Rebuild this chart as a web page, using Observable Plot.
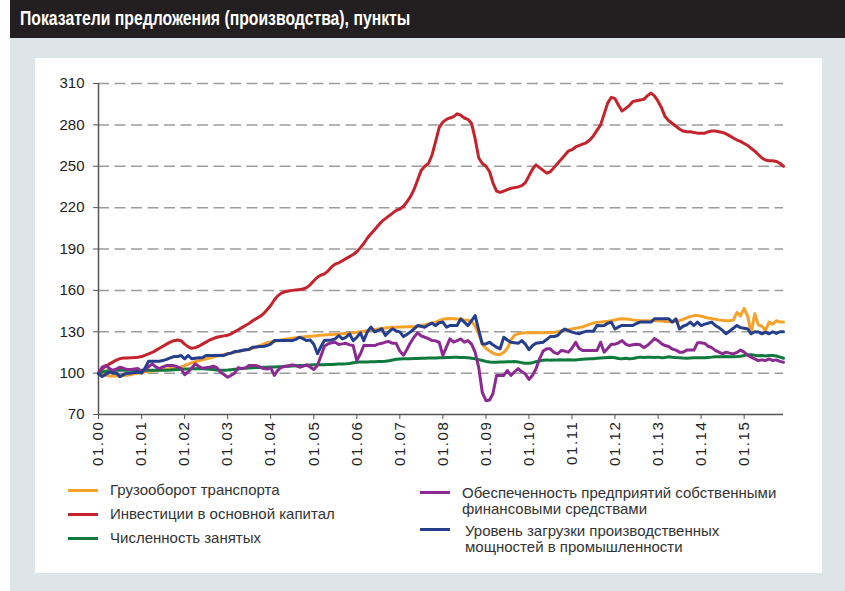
<!DOCTYPE html>
<html>
<head>
<meta charset="utf-8">
<script src="https://cdn.jsdelivr.net/npm/d3@7"></script>
<script src="https://cdn.jsdelivr.net/npm/@observablehq/plot@0.6"></script>
<style>
  html, body { margin: 0; padding: 0; }
  body { width: 845px; height: 591px; position: relative; overflow: hidden; background: #ffffff; font-family: "Liberation Sans", Arial, sans-serif; }
  #bg { position: absolute; left: 10px; top: 0; width: 835px; height: 591px; background: #dde5e9; }
  #title { position: absolute; left: 10px; top: 0; width: 835px; height: 38px; background: #231f20; }
  #title span { position: absolute; left: 10px; top: 7px; color: #fff; font-family: "Liberation Sans", Arial, sans-serif; font-weight: bold; font-size: 20px; white-space: nowrap; transform-origin: 0 50%; }
  #panel { position: absolute; left: 35px; top: 58px; width: 787px; height: 515px; background: #fff; }
  #chart { position: absolute; left: 0; top: 0; }
  .lg { position: absolute; font-size: 15px; color: #333; line-height: 16px; white-space: nowrap; }
  .sw { position: absolute; width: 30px; height: 3px; }
</style>
</head>
<body>
<div id="bg"></div>
<div id="title"><span id="titleText">Показатели предложения (производства), пункты</span></div>
<div id="panel"></div>
<div id="chart"></div>
<div id="legend"></div>
<script>
// ---- Data (monthly, Jan 2000 – Dec 2015) ----
const years = d3.range(2000, 2016);
const seriesNames = [
  "Грузооборот транспорта",
  "Инвестиции в основной капитал",
  "Численность занятых",
  "Обеспеченность предприятий собственными финансовыми средствами",
  "Уровень загрузки производственных мощностей в промышленности"
];
const seriesColors = ["#f6a12a", "#c5232b", "#0e7a3d", "#8b2b91", "#263f8c"];
const yTicks = [70, 100, 130, 160, 190, 220, 250, 280, 310];

const freight = [
  100,99,98.5,98,98,98,98,98.2,98.5,99,99.5,100,
  100.5,101,101.3,101.6,102,102.3,102.6,103,103.3,103.6,104,104.5,
  105.5,106.5,107.5,108.3,109,109.7,110.3,111,111.6,112.3,113,113.5,
  114,114.6,115.2,115.7,116.2,116.7,117.2,118,119,120,121,122,
  122.5,123,123.5,124,124.5,125,125.3,125.6,125.9,126.2,126.5,126.8,
  127,127.2,127.4,127.6,127.8,128,128.2,128.4,128.6,128.8,129,129.3,
  129.6,130,130.4,130.8,131.2,131.6,132,132.4,132.8,133,133.2,133.3,
  133.4,133.5,133.6,133.7,133.8,134,134.5,135,135.7,136.3,137,138,
  139,139.4,139.6,139.5,139.2,139,138.6,138.3,137.5,134,128,121,
  118,116,114.5,113.5,113.5,115,118,124,127.5,128.5,129,129.2,
  129.2,129.2,129.2,129.2,129.2,129.2,129.4,129.6,130,130.5,131,131.5,
  132,132.5,133,133.5,134.5,135.5,136.3,136.8,137,137.3,137.6,138,
  138.5,139.3,139.5,139.3,139,138.6,138.3,138,138,138,138,138,
  138,137.8,137.5,137.3,137.2,137.4,138,139,140,141,141.7,141.8,
  141.3,140.5,140,139.5,139,138.6,138.3,138,138,138.5,144,141.5,
  147,141,129,143,135,134,131,137,135.5,138,137,137
];
const investment = [
  100,103,105,106.5,108,109.5,110.5,111,111,111.2,111.3,111.5,
  112,113,114,115,116.5,118,119.5,121,122.5,123.5,124,123.5,
  121,119,118,118.5,119.5,121,122.5,124,125,126,126.5,127,
  127.5,128.5,130,131.5,133,134.5,136,138,139.5,141,143,146,
  149,153,156,158,159,159.5,160,160.3,160.6,161,162,164,
  167,169.5,171,172,174,177,179,180,181.5,183,184.5,186,
  188,191,194,198,201,204,207,210,212,214,216,218,
  219,221,224,228,233,240,247,250,252,258,268,278,
  282,284,285,286,288,287,285,284,281,270,256,252,
  250,246,238,232,231,232,233,234,234.5,235,236,238,
  243,248,251,249,247,245,246,249,252,255,258,261,
  262,264,265,266,267,269,272,276,280,288,296,300,
  299,294,290,292,294,297,297.5,298,298.5,301,303,301,
  297,292,286,283,281,279,277,275.5,275,275,274.5,274,
  274,274,275,275.5,275.5,275,274.5,273.5,272,270.5,269,268,
  266.5,265,263,261,258.5,256,254.5,254,254,253.5,252,250
];
const employment = [
  100,100.8,101.3,101.7,101.9,102,102,102,102,102,102,102,
  102,102,102,102,102,102,102,102,102.2,102.5,102.7,102.8,
  103,103,103.1,103.2,103.3,103.2,103,102.8,102.6,102.3,102.1,102,
  102.2,102.5,102.8,103,103.3,103.5,103.7,103.9,104,104.1,104.2,104.3,
  104.4,104.5,104.6,104.7,104.9,105,105.2,105.4,105.5,105.6,105.8,105.9,
  106,106,106,106.1,106.2,106.3,106.5,106.6,106.7,106.8,107,107.5,
  107.8,108,108,108.1,108.2,108.3,108.4,108.5,108.6,109,109.5,110,
  110.3,110.4,110.5,110.5,110.6,110.6,110.7,110.8,110.9,111,111,111.1,
  111.2,111.3,111.4,111.5,111.5,111.4,111.3,111.1,110.8,110.4,109.8,109.2,
  108.5,108,107.9,107.9,108,108.1,108.2,108.3,108.4,108.1,107.6,107.2,
  107.2,107.6,108.2,108.8,109.4,109.6,109.3,109.6,109.5,109.7,109.6,109.7,
  109.6,109.6,109.8,110.1,110.3,110.4,110.5,110.7,110.9,111.1,111.3,111.5,
  111.2,110.6,110.4,110.8,110.4,110.6,111.2,111.6,111.4,111.6,111.6,111.4,
  111.6,111.2,111.4,111.8,111.5,111.3,111.2,110.9,110.8,111,111.2,111.1,
  111.2,111.1,111.4,111.6,111.9,111.8,111.9,112,111.8,111.9,112,112.3,
  112.8,113.4,113.3,112.9,112.6,112.8,112.5,112.7,112.8,112.4,111.6,110.8
];
const finance = [
  100,104.3,105.5,103.5,101.9,103,104.3,103.5,102.6,102.6,103,103.3,
  100.4,102.5,104.5,106.7,104.5,103.3,104.5,105.5,105.5,105.5,104.5,103.3,
  98.8,101,103.5,106.7,105,103.5,104,104.3,105,104,100.7,99,
  97,98.5,100,104,103.3,103.8,105.5,105.5,105.5,104.5,103.3,103,
  104,98.3,102,104.3,104.8,105.3,106,105.5,104.3,105,106,104.5,
  102.6,105.5,112,119.5,121.2,122,122.4,120.7,121.2,121.6,120.5,120,
  109.1,114,120,120,120,120,121,121.6,122.5,122.9,121.6,121.6,
  116,113,117,122,126,129.2,127,126,125,123.6,123.4,122.4,
  112.8,119,124.8,122.4,123.6,124.8,122.4,123.6,121,115.2,104,86,
  80,80.5,85,98.3,98.3,98.3,101.9,98.3,101,103.3,101,99.5,
  95.4,98.5,103,110.4,116,117.6,117.6,115,114,116.4,116,115.2,
  118,122.4,118,116.4,116.4,116.4,116.4,116.4,122.4,115.2,118,121,
  121,122,123.6,121,120,120.6,121,120.6,118.5,120,122.4,125,
  123.5,121.2,120,119.3,117.5,116.7,115.2,115.2,116.7,116.7,116.7,122,
  122,121.5,119.5,118.5,116.5,115.2,113.9,115.2,114.5,113.9,115,116.7,
  115.2,113,111.6,110.3,109.1,109.6,109.1,110.3,109.1,109.6,108.5,107.9
];
const capacity = [
  99.5,97.5,99,100.7,100,100,97.5,99,100,100,100.5,100.7,
  100,104,108.6,108.6,108.6,108.6,109.1,110,111,112,112,112.8,
  110.4,112.8,110.4,110.8,111.1,111.1,112.8,112.8,112.8,112.8,112.8,112.8,
  114,114.5,115.6,115.8,116.4,117,117.1,118.8,119,119.3,119.3,120,
  121,123.6,123.6,123.6,123.6,123.6,123.6,124.5,126,125,123.6,124,
  121,114,119,123.6,123.8,124,124.8,127.3,124.8,126,128.5,123.6,
  126,129.2,123.6,130,133.3,129.9,130.9,132.2,127.3,130,132.2,130.5,
  129.9,126.5,128,129.9,132,134.5,134,133.3,135,136.2,134.5,136.5,
  137,133.3,134.5,134.5,134.5,139.4,137,134.5,138,141.8,131,121.2,
  121.2,122.4,120.5,118.8,117.6,126,124,122.4,122,121.6,123.6,121,
  117,120,121.6,122,122.4,124.5,126.5,126.5,127.3,130,132,130.8,
  129.7,129,128.5,129.5,130.3,130.3,130.3,134.5,134.3,134.5,136.2,137,
  132,133.5,134.6,134.6,134.6,134.6,136,137,137,137,137,139.4,
  139.4,139.4,139.4,139.4,137,139.4,132,134,135,137,134.5,137,
  134.5,135.5,136.2,137,134.5,133,131,128.5,130.5,132.5,134.5,133,
  132.5,132,128.5,130,129.9,128.5,129.7,128.5,130,128.8,130,130
];

// ---- Build table ----
const months = years.flatMap(y => d3.range(12).map(m => new Date(Date.UTC(y, m, 1))));
const allSeries = [freight, investment, employment, finance, capacity];
const rows = allSeries.flatMap((vals, i) => vals.map((v, j) => ({date: months[j], value: v, series: seriesNames[i]})));

const xStart = months[0], xEnd = months[months.length - 1];
const yearTicks = years.map(y => new Date(Date.UTC(y, 0, 1)));

const chart = Plot.plot({
  width: 845,
  height: 480,
  marginLeft: 98,
  marginRight: 62,
  marginTop: 83,
  marginBottom: 66,
  style: {fontFamily: "'Liberation Sans', Arial, sans-serif", fontSize: "15px", color: "#222", background: "transparent"},
  x: {type: "utc", domain: [xStart, xEnd], label: null},
  y: {domain: [70, 310], label: null},
  color: {domain: seriesNames, range: seriesColors},
  marks: [
    Plot.gridY(yTicks.slice(1), {stroke: "#9c9c9c", strokeOpacity: 1, strokeWidth: 1.5, strokeDasharray: "11,5.5"}),
    Plot.axisY({ticks: yTicks, tickSize: 5, tickPadding: 9, stroke: "#555", fontSize: 15, label: null}),
    Plot.axisX({ticks: yearTicks, tickFormat: d => "01." + d3.utcFormat("%y")(d), tickRotate: -90, tickSize: 5, tickPadding: 1, stroke: "#555", fontSize: 15, label: null}),
    Plot.ruleX([xStart], {stroke: "#555", strokeWidth: 1.5}),
    Plot.ruleY([70], {stroke: "#555", strokeWidth: 1.5}),
    Plot.line(rows, {x: "date", y: "value", z: "series", stroke: "series", strokeWidth: 3, strokeLinejoin: "round", strokeLinecap: "round"})
  ]
});
document.getElementById("chart").appendChild(chart);
// widen x tick labels a little, as in the reference
chart.querySelectorAll("[aria-label='x-axis tick label'] text").forEach(t => t.setAttribute("letter-spacing", "1.6"));

// condensed title, as in the reference
const tt = document.getElementById("titleText");
const tw = tt.getBoundingClientRect().width;
tt.style.transform = "scaleX(" + (390 / tw).toFixed(3) + ")";

// ---- Legend ----
const legendItems = [
  {i: 0, sx: 68, sy: 490, tx: 110, ty: 482, text: "Грузооборот транспорта"},
  {i: 1, sx: 68, sy: 514, tx: 110, ty: 506, text: "Инвестиции в основной капитал"},
  {i: 2, sx: 68, sy: 538, tx: 110, ty: 530, text: "Численность занятых"},
  {i: 3, sx: 420, sy: 492, tx: 462, ty: 485, text: "Обеспеченность предприятий собственными<br>финансовыми средствами"},
  {i: 4, sx: 420, sy: 529, tx: 465, ty: 523, text: "Уровень загрузки производственных<br>мощностей в промышленности"}
];
const lg = document.getElementById("legend");
legendItems.forEach(it => {
  const sw = document.createElement("div");
  sw.className = "sw";
  sw.style.left = it.sx + "px";
  sw.style.top = (it.sy - 1.5) + "px";
  sw.style.background = seriesColors[it.i];
  lg.appendChild(sw);
  const tx = document.createElement("div");
  tx.className = "lg";
  tx.style.left = it.tx + "px";
  tx.style.top = it.ty + "px";
  tx.innerHTML = it.text;
  lg.appendChild(tx);
});
</script>
</body>
</html>
